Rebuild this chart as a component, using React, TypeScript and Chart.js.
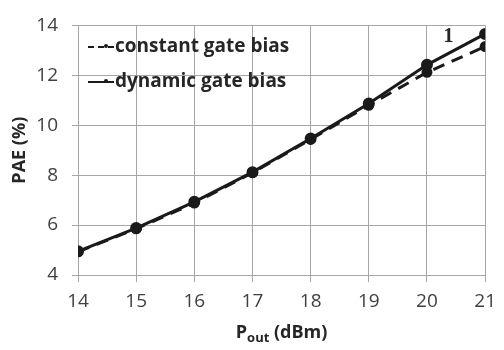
import React, { useEffect, useRef } from "react";
import { Chart, registerables } from "chart.js";

Chart.register(...registerables);

const pout = [14, 15, 16, 17, 18, 19, 20, 21];
const constantBias = [4.93, 5.85, 6.88, 8.1, 9.43, 10.8, 12.12, 13.15];
const dynamicBias = [4.95, 5.88, 6.93, 8.12, 9.47, 10.87, 12.42, 13.66];
const seriesNames = ["constant gate bias", "dynamic gate bias"];
const annotationText = "1";

const FONT = "'Open Sans', 'Noto Sans', sans-serif";
const INK = "#1a1a1a";

const overlay = {
  id: "overlay",
  afterDraw(chart: any) {
    const ctx = chart.ctx;
    const ca = chart.chartArea;
    const xs = chart.scales.x;
    const ys = chart.scales.y;
    ctx.save();
    // legend
    const rows = [
      { name: seriesNames[0], dash: [6, 4], y: 47 },
      { name: seriesNames[1], dash: [], y: 82 },
    ];
    rows.forEach((r) => {
      ctx.strokeStyle = INK;
      ctx.lineWidth = 2;
      ctx.setLineDash(r.dash);
      ctx.beginPath();
      ctx.moveTo(ca.left + 10, r.y);
      ctx.lineTo(ca.left + 36, r.y);
      ctx.stroke();
      ctx.setLineDash([]);
      ctx.fillStyle = INK;
      ctx.beginPath();
      ctx.arc(ca.left + 28, r.y - 1, 2, 0, Math.PI * 2);
      ctx.fill();
      ctx.font = `bold 19px ${FONT}`;
      ctx.textAlign = "left";
      ctx.textBaseline = "middle";
      ctx.fillStyle = "#262626";
      ctx.fillText(r.name, ca.left + 37, r.y);
    });
    // annotation "1"
    ctx.font = `bold 20px 'Liberation Serif', serif`;
    ctx.textAlign = "center";
    ctx.textBaseline = "middle";
    ctx.fillStyle = "#262626";
    ctx.fillText(annotationText, xs.getPixelForValue(20.37), ys.getPixelForValue(13.55));
    // y title
    ctx.save();
    ctx.translate(20, (ca.top + ca.bottom) / 2);
    ctx.rotate(-Math.PI / 2);
    ctx.font = `bold 18px ${FONT}`;
    ctx.textAlign = "center";
    ctx.textBaseline = "middle";
    ctx.fillText("PAE (%)", 0, 0);
    ctx.restore();
    // x title with subscript
    const cx = (ca.left + ca.right) / 2;
    const ty = 333;
    ctx.font = `bold 18px ${FONT}`;
    const wP = ctx.measureText("P").width;
    ctx.font = `bold 13px ${FONT}`;
    const wSub = ctx.measureText("out").width;
    ctx.font = `bold 18px ${FONT}`;
    const wRest = ctx.measureText(" (dBm)").width;
    let x0 = cx - (wP + wSub + wRest) / 2;
    ctx.textAlign = "left";
    ctx.textBaseline = "middle";
    ctx.fillText("P", x0, ty);
    ctx.font = `bold 13px ${FONT}`;
    ctx.fillText("out", x0 + wP, ty + 5);
    ctx.font = `bold 18px ${FONT}`;
    ctx.fillText(" (dBm)", x0 + wP + wSub, ty);
    ctx.restore();
  },
};

export default function App() {
  const ref = useRef<HTMLCanvasElement>(null);
  useEffect(() => {
    document.body.style.margin = "0";
    const chart = new Chart(ref.current!, {
      type: "line",
      data: {
        datasets: [
          {
            label: seriesNames[0],
            data: pout.map((x, i) => ({ x, y: constantBias[i] })),
            borderColor: INK,
            backgroundColor: INK,
            borderWidth: 3,
            borderDash: [12, 8],
            pointRadius: 4,
            pointStyle: "circle",
          },
          {
            label: seriesNames[1],
            data: pout.map((x, i) => ({ x, y: dynamicBias[i] })),
            borderColor: INK,
            backgroundColor: INK,
            borderWidth: 3,
            pointRadius: 4.5,
          },
        ],
      },
      options: {
        animation: false,
        responsive: false,
        layout: { padding: { top: 15, right: 13, left: 0, bottom: 0 } },
        plugins: { legend: { display: false }, tooltip: { enabled: false } },
        scales: {
          x: {
            type: "linear",
            min: 14,
            max: 21,
            afterFit: (s: any) => { s.height = 75; },
            ticks: { stepSize: 1, color: "#404040", font: { family: FONT, size: 19 }, padding: 8 },
            grid: { color: "#a6a6a6", lineWidth: 1, tickLength: 7 },
            border: { color: "#a6a6a6" },
          },
          y: {
            min: 4,
            max: 14,
            afterFit: (s: any) => { s.width = 78; },
            ticks: { stepSize: 2, color: "#404040", font: { family: FONT, size: 19 }, padding: 14 },
            grid: { color: "#a6a6a6", lineWidth: 1, tickLength: 6 },
            border: { display: false },
          },
        },
      },
      plugins: [overlay],
    } as any);
    return () => chart.destroy();
  }, []);
  return <canvas ref={ref} width={504} height={350} style={{ display: "block" }} />;
}
